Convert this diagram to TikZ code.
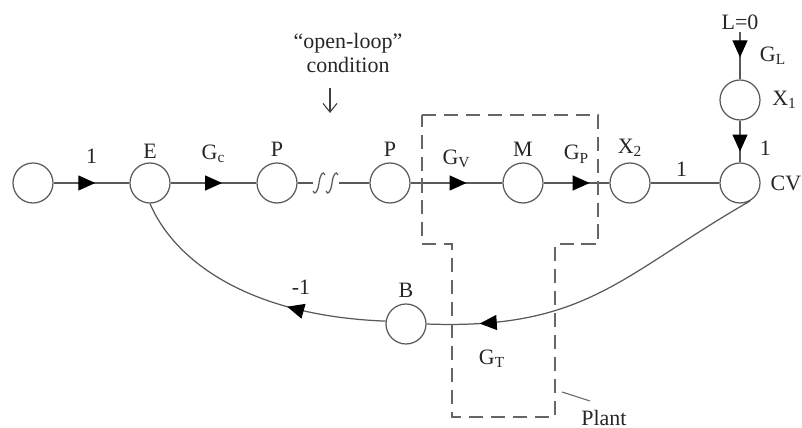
\documentclass[tikz,border=0pt]{standalone}
\usepackage{fontspec}
\setmainfont{Liberation Serif}
\usetikzlibrary{arrows.meta, decorations.markings, positioning}
\tikzset{
  signode/.style={circle, draw=black!65, line width=0.7pt, minimum size=0.8cm, inner sep=0pt},
  gain/.style={font=\fontsize{12.5}{14}\selectfont, text=black!85, inner sep=1pt},
  branch/.style={draw=black!65, line width=0.7pt},
  midarrow/.style={postaction={decorate}, decoration={markings, mark=at position #1 with {\arrow{Triangle[length=0.34cm, width=0.3cm, color=black]}}}},
  midarrow/.default=0.6,
  plantbox/.style={draw=black!60, line width=0.7pt, dash pattern=on 8pt off 4.5pt}
}
\begin{document}
\begin{tikzpicture}[x=0.02cm, y=-0.02cm]
    \useasboundingbox (0,0) rectangle (802,428);
    \clip (0,0) rectangle (802,428);

    % === signal nodes ===
    \node (src) [signode] at (33,183) {};
    \node (E) [signode] at (150,183) {};
    \node (Pa) [signode] at (277,183) {};
    \node (Pb) [signode] at (390,183) {};
    \node (M) [signode] at (523,183) {};
    \node (X2) [signode] at (630,183) {};
    \node (CV) [signode] at (740,183) {};
    \node (X1) [signode] at (740,100) {};
    \node (B) [signode] at (406,324) {};
    \node (load) [gain] at (740,22) {L=0};

    \node [gain, above=1pt of E] {E};
    \node [gain, above=2pt of Pa] {P};
    \node [gain, above=2pt of Pb] {P};
    \node [gain, above=2pt of M] {M};
    \node [gain, above=2pt of X2] {X\textsubscript{2}};
    \node [gain, right=4.5pt of CV] {CV};
    \node [gain, right=5.5pt of X1] {X\textsubscript{1}};
    \node [gain, above=2pt of B] {B};

    % === forward path ===
    \draw [branch, midarrow=0.55] (src) -- node[gain, above=10pt] {1} (E);
    \draw [branch, midarrow=0.6] (E) -- node[gain, above=10pt] {G\textsubscript{c}} (Pa);
    \coordinate (brkL) at (313,183);
    \coordinate (brkR) at (339,183);
    \draw [branch] (Pa) -- (brkL);
    \draw [branch] (brkR) -- (Pb);
    \foreach \xc in {319,332}
      \draw [branch] (\xc-6,191) .. controls (\xc-4,196) and (\xc-1,191) .. (\xc,183)
        .. controls (\xc+1,175) and (\xc+4,170) .. (\xc+6,175);
    \draw [branch, midarrow=0.61] (Pb) -- node[gain, above=7.5pt] {G\textsubscript{V}} (M);
    \draw [branch, midarrow=0.7] (M) -- node[gain, above=10pt] {G\textsubscript{P}} (X2);
    \draw [branch] (X2) -- node[gain, above=2.5pt, xshift=-2pt] {1} (CV);

    % === load path ===
    \draw [branch, midarrow=0.54] (load) -- node[gain, right=10pt] {G\textsubscript{L}} (X1);
    \draw [branch, midarrow=0.74] (X1) -- node[gain, right=10pt, yshift=-4pt] {1} (CV);

    % === feedback ===
    \draw [branch, midarrow=0.85] (CV.-60) .. controls (621,275) and (587,330) .. (B.east);
    \draw [branch, midarrow=0.36] (B.172) .. controls (250,316) and (175,262) .. (E.south);
    \node (gt) [gain] at (492,359) {G\textsubscript{T}};
    \node (fb) [gain] at (301,287) {-1};

    % === open-loop note ===
    \node (note) [gain, align=center] at (348,53) {``open-loop''\\condition};
    \draw [black!75, line width=0.6pt, -{Straight Barb[length=5pt, width=8pt]}] (330,88) -- (330,113);

    % === plant ===
    \draw [plantbox] (422,115) -- (598,115) -- (598,244) -- (555,244) -- (555,417)
      -- (452,417) -- (452,244) -- (422,244) -- cycle;
    \node (plant) [gain] at (604,418) {Plant};
    \draw [black!60, line width=0.6pt] (562,392) -- (590,401);

\end{tikzpicture}
\end{document}
